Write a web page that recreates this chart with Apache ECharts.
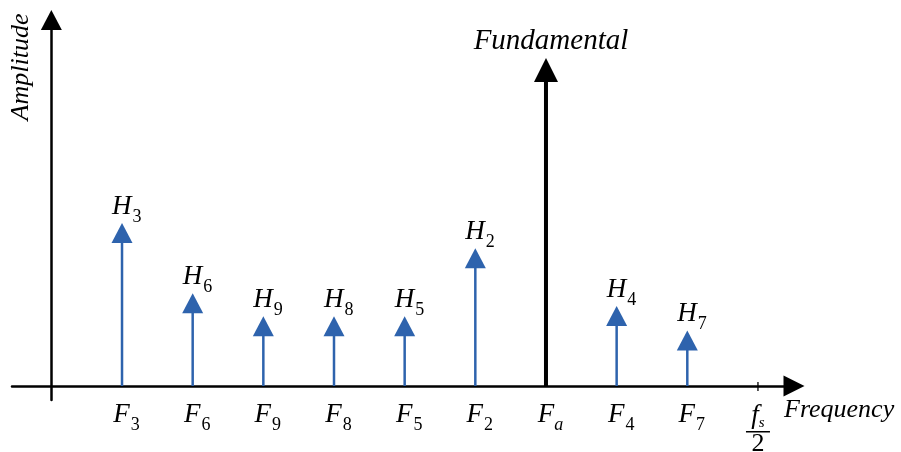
<!DOCTYPE html>
<html>
<head>
<meta charset="utf-8">
<title>Harmonic spectrum</title>
<script src="https://cdn.jsdelivr.net/npm/echarts@6/dist/echarts.min.js"></script>
<style>
  html, body { margin: 0; padding: 0; background: #ffffff; }
  #chart { width: 901px; height: 452px; }
</style>
</head>
<body>
<div id="chart"></div>
<script>
// Spectral lines, left to right along the frequency axis
const lineNames = ['H_3', 'H_6', 'H_9', 'H_8', 'H_5', 'H_2', 'Fundamental', 'H_4', 'H_7'];
const amplitudes = [4.97, 2.83, 2.13, 2.13, 2.13, 4.2, 10, 2.44, 1.69];
// Frequency tick labels (last one is the Nyquist frequency fs/2)
const tickLabels = ['F_3', 'F_6', 'F_9', 'F_8', 'F_5', 'F_2', 'F_a', 'F_4', 'F_7', 'f_s/2'];

const SERIF = '"Liberation Serif", "Times New Roman", serif';
const BLUE = '#2e63ad';
const fundamentalIndex = lineNames.indexOf('Fundamental');

const lineData = amplitudes.map((a, i) => [i + 1, a]);
const tickPositions = tickLabels.map((t, i) => i + 1);
const nyquistPos = tickPositions[tickPositions.length - 1];

// "X_n" -> rich text with an italic letter and a subscript; "a_b/c" -> stacked fraction
function richLabel(label) {
  if (label.indexOf('/') >= 0) {
    const [num, den] = label.split('/');
    const [b, s] = num.split('_');
    return '{fi|' + b + '}{si|' + s + '}\n{bar| }\n{den|' + den + '}';
  }
  const [b, s] = label.split('_');
  const subStyle = /[0-9]/.test(s) ? 'sub' : 'subi';
  return '{pad|}{big|' + b + '}{' + subStyle + '|' + s + '}';
}

const richStyles = {
  pad: { width: 9, lineHeight: 27 },
  big: { fontFamily: SERIF, fontStyle: 'italic', fontSize: 27, lineHeight: 27, color: '#000', padding: [0, 0, 6, 0], verticalAlign: 'bottom' },
  sub: { fontFamily: SERIF, fontSize: 18, lineHeight: 18, color: '#000', verticalAlign: 'bottom', padding: [0, 0, 0, 1] },
  subi: { fontFamily: SERIF, fontStyle: 'italic', fontSize: 18, lineHeight: 18, color: '#000', verticalAlign: 'bottom' },
  fi: { fontFamily: SERIF, fontStyle: 'italic', fontSize: 27, lineHeight: 24, color: '#000', padding: [0, 0, 2, 0], verticalAlign: 'bottom' },
  si: { fontFamily: SERIF, fontStyle: 'italic', fontSize: 15, lineHeight: 15, color: '#000', verticalAlign: 'bottom' },
  bar: { width: 24, height: 1.5, lineHeight: 1.5, fontSize: 1, color: 'transparent', backgroundColor: '#000' },
  den: { fontFamily: SERIF, fontSize: 26, lineHeight: 20, color: '#000', padding: [3, 0, 0, 0] }
};

const chart = echarts.init(document.getElementById('chart'), null, { renderer: 'canvas' });

chart.setOption({
  animation: false,
  backgroundColor: '#ffffff',
  grid: { left: 12, right: 107, top: 20, bottom: 52, containLabel: false, outerBoundsMode: 'none' },
  xAxis: {
    type: 'value',
    min: -0.557,
    max: 10.51,
    splitLine: { show: false },
    axisLine: {
      onZero: true,
      symbol: ['none', 'triangle'],
      symbolSize: [21, 21],
      lineStyle: { color: '#000', width: 2.5 }
    },
    axisTick: { show: false },
    axisLabel: {
      customValues: tickPositions,
      margin: 7,
      formatter: v => richLabel(tickLabels[Math.round(v) - 1]),
      rich: richStyles
    }
  },
  yAxis: {
    type: 'value',
    min: -0.427,
    max: 11.16,
    splitLine: { show: false },
    axisTick: { show: false },
    axisLabel: { show: false },
    axisLine: {
      onZero: true,
      symbol: ['none', 'triangle'],
      symbolSize: [21, 20],
      lineStyle: { color: '#000', width: 2.5 }
    }
  },
  series: [{
    type: 'custom',
    coordinateSystem: 'cartesian2d',
    data: lineData,
    renderItem: function (params, api) {
      const i = params.dataIndex;
      const base = api.coord([api.value(0), 0]);
      const tip = api.coord([api.value(0), api.value(1)]);
      const isFund = i === fundamentalIndex;
      const color = isFund ? '#000' : BLUE;
      const hw = isFund ? 12 : 10.5;
      const hh = isFund ? 24 : 20;
      const name = lineNames[i];
      const children = [
        {
          type: 'line',
          shape: { x1: tip[0], y1: tip[1] + hh - 2, x2: base[0], y2: base[1] },
          style: { stroke: color, lineWidth: isFund ? 4 : 2.5 }
        },
        {
          type: 'polygon',
          shape: { points: [[tip[0], tip[1]], [tip[0] - hw, tip[1] + hh], [tip[0] + hw, tip[1] + hh]] },
          style: { fill: color }
        }
      ];
      if (isFund) {
        children.push({
          type: 'text',
          style: { text: name, x: tip[0] + 5, y: tip[1] - 2, font: 'italic 29px ' + SERIF, fill: '#000', align: 'center', verticalAlign: 'bottom' }
        });
      } else {
        const [b, s] = name.split('_');
        children.push({
          type: 'text',
          style: {
            text: '{big|' + b + '}{sub|' + s + '}',
            rich: richStyles,
            x: tip[0] - 10, y: tip[1] + 3,
            align: 'left', verticalAlign: 'bottom'
          }
        });
      }
      return { type: 'group', children: children };
    }
  }]
});

// Axis titles, plus the small tick that crosses the frequency axis at fs/2
const nyq = chart.convertToPixel({ gridIndex: 0 }, [nyquistPos, 0]);
chart.setOption({
  graphic: [
    {
      type: 'text',
      x: 21, y: 67,
      rotation: Math.PI / 2,
      style: { text: 'Amplitude', font: 'italic 26px ' + SERIF, fill: '#000', align: 'center', verticalAlign: 'middle' }
    },
    {
      type: 'text',
      x: 784, y: 397,
      style: { text: 'Frequency', font: 'italic 26px ' + SERIF, fill: '#000', align: 'left', verticalAlign: 'top' }
    },
    {
      type: 'line',
      shape: { x1: nyq[0], y1: nyq[1] - 4, x2: nyq[0], y2: nyq[1] + 5 },
      style: { stroke: '#000', lineWidth: 1.3 }
    }
  ]
});
</script>
</body>
</html>
